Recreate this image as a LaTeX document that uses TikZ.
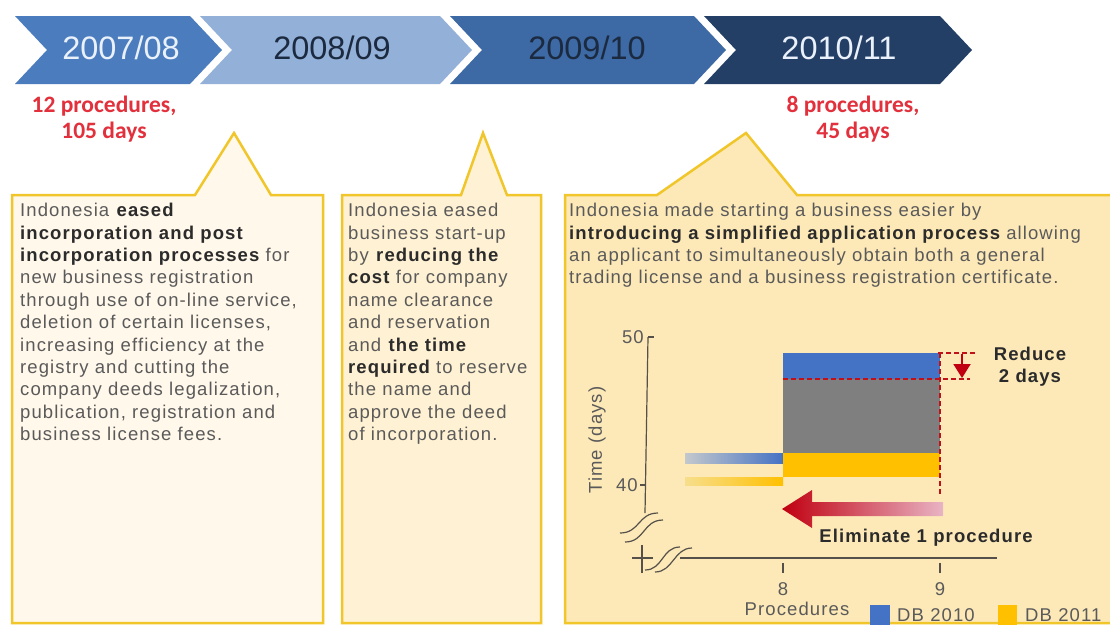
\documentclass[tikz,border=0pt]{standalone}
\usepackage{fontspec}
\setmainfont{Liberation Sans}
\newfontfamily\notefont{Carlito}
\newfontfamily\bodyfont[LetterSpace=6]{Liberation Sans}
\usetikzlibrary{arrows.meta}

\definecolor{chevA}{HTML}{4B7DBE}
\definecolor{chevB}{HTML}{92B0D8}
\definecolor{chevC}{HTML}{3D69A5}
\definecolor{chevD}{HTML}{243F66}
\definecolor{yearLight}{HTML}{EAF1FA}
\definecolor{yearDark}{HTML}{1C2A40}
\definecolor{noteRed}{HTML}{E2313C}
\definecolor{boxLine}{HTML}{F0C62A}
\definecolor{boxA}{HTML}{FFF8EB}
\definecolor{boxB}{HTML}{FFF1D3}
\definecolor{boxC}{HTML}{FDE9B8}
\definecolor{bodyGray}{HTML}{5A5A5A}
\definecolor{boldGray}{HTML}{2B2B2B}
\definecolor{axisGray}{HTML}{555049}
\definecolor{barBlue}{HTML}{4472C4}
\definecolor{barGray}{HTML}{7F7F7F}
\definecolor{barYellow}{HTML}{FFC000}
\definecolor{barFadeBlue}{HTML}{C3C8CC}
\definecolor{barFadeYellow}{HTML}{F7DE8C}
\definecolor{dashRed}{HTML}{C0101A}
\definecolor{arrowRed}{HTML}{C00010}
\definecolor{arrowPink}{HTML}{E8B4C4}

\newcommand{\hl}[1]{\textbf{\color{boldGray}#1}}

\tikzset{
  year/.style={font=\fontsize{32.5}{36}\selectfont},
  note/.style={font=\notefont\bfseries\fontsize{23.5}{26}\selectfont, text=noteRed, align=center},
  boxtext/.style={font=\bodyfont\fontsize{18.5}{22.4}\selectfont, text=bodyGray, align=left, anchor=north west, inner sep=0pt},
  callout/.style={draw=boxLine, line width=2.5pt, line join=miter},
  axis/.style={draw=axisGray, line width=1.2pt},
  reddash/.style={draw=dashRed, line width=1.4pt, dash pattern=on 5pt off 3pt},
  lbl/.style={font=\bodyfont\fontsize{18.5}{20}\selectfont, text=bodyGray, inner sep=0pt},
  bold lbl/.style={font=\bodyfont\bfseries\fontsize{18.5}{22.4}\selectfont, text=boldGray, inner sep=0pt, align=center},
}

\begin{document}
\begin{tikzpicture}[x=1pt,y=-1pt]
	\clip (0,0) rectangle (1110,625);
	\fill[white] (0,0) rectangle (1110,625);

	% timeline
	\fill[chevA] (15,16) -- (190,16) -- (222,50) -- (190,84) -- (15,84) -- (47,50) -- cycle;
	\fill[chevB] (200,16) -- (440,16) -- (472,50) -- (440,84) -- (200,84) -- (232,50) -- cycle;
	\fill[chevC] (450,16) -- (694,16) -- (726,50) -- (694,84) -- (450,84) -- (482,50) -- cycle;
	\fill[chevD] (704,16) -- (940,16) -- (972,50) -- (940,84) -- (704,84) -- (736,50) -- cycle;

	\node [year,text=yearLight] (y0708) at (121,48) {2007/08};
	\node [year,text=yearDark] (y0809) at (332,48) {2008/09};
	\node [year,text=yearDark] (y0910) at (587,48) {2009/10};
	\node [year,text=yearLight] (y1011) at (839,48) {2010/11};

	\node [note] (start) at (104,119) {12 procedures,\\105 days};
	\node [note] (end) at (853,119) {8 procedures,\\45 days};

	% callouts
	\filldraw[callout,fill=boxA] (12,195) -- (195,195) -- (234,133) -- (271,195) -- (323,195) -- (323,623) -- (12,623) -- cycle;
	\filldraw[callout,fill=boxB] (342,195) -- (461,195) -- (483,133) -- (507,195) -- (541,195) -- (541,623) -- (342,623) -- cycle;
	\filldraw[callout,fill=boxC] (565,195) -- (657,195) -- (746,133) -- (797,195) -- (1125,195) -- (1125,623) -- (565,623) -- cycle;

	\node [boxtext] (reform1) at (20,203) {Indonesia \hl{eased}\\
		\hl{incorporation and post}\\
		\hl{incorporation processes} for\\
		new business registration\\
		through use of on-line service,\\
		deletion of certain licenses,\\
		increasing efficiency at the\\
		registry and cutting the\\
		company deeds legalization,\\
		publication, registration and\\
		business license fees.};
	\node [boxtext] (reform2) at (348,203) {Indonesia eased\\
		business start-up\\
		by \hl{reducing the}\\
		\hl{cost} for company\\
		name clearance\\
		and reservation\\
		and \hl{the time}\\
		\hl{required} to reserve\\
		the name and\\
		approve the deed\\
		of incorporation.};
	\node [boxtext] (reform3) at (569,203) {Indonesia made starting a business easier by\\
		\hl{introducing a simplified application process} allowing\\
		an applicant to simultaneously obtain both a general\\
		trading license and a business registration certificate.};

	% chart
	\draw[axis] (648,337) -- (645,513);
	\draw[axis] (648,337) -- (654,337);
	\draw[axis] (640,485) -- (646,485);
	\draw[axis] (620,533) .. controls (640,533) and (638,513) .. (658,513);
	\draw[axis] (625,542) .. controls (645,542) and (643,520) .. (663,520);
	\draw[axis] (642,545) -- (642,573);
	\draw[axis] (632,558) -- (653,558);
	\draw[axis] (645,570) .. controls (663,570) and (662,547) .. (680,547);
	\draw[axis] (655,572) .. controls (673,572) and (674,548) .. (692,548);
	\draw[axis] (680,558) -- (997,558);
	\draw[axis] (783,563) -- (783,573);
	\draw[axis] (940,563) -- (940,573);

	\node [lbl,anchor=east] (t50) at (644,337) {50};
	\node [lbl,anchor=east] (t40) at (638,485) {40};
	\node [lbl,rotate=90] (ylab) at (597,440) {Time (days)};
	\node [lbl] (p8) at (783,589) {8};
	\node [lbl] (p9) at (940,589) {9};
	\node [lbl] (xlab) at (797,609) {Procedures};

	\shade[left color=barFadeBlue,right color=barBlue] (685,453) rectangle (783,463);
	\shade[left color=barFadeYellow,right color=barYellow] (685,477) rectangle (783,485);
	\fill[barBlue] (783,353) rectangle (940,379);
	\fill[barGray] (783,379) rectangle (940,453);
	\fill[barYellow] (783,453) rectangle (940,477);

	\draw[reddash] (938,353) -- (977,353);
	\draw[reddash] (783,379) -- (970,379);
	\draw[reddash] (940,353) -- (940,495);
	\draw[-{Triangle[length=14pt,width=17pt]},line width=2pt,arrowRed] (962,354) -- (962,378);
	\node [bold lbl] (reduce) at (1030,367) {Reduce\\2 days};

	\shade[left color=arrowRed,right color=arrowPink] (782,509) -- (812,490) -- (812,502) -- (943,502) -- (943,516) -- (812,516) -- (812,528) -- cycle;
	\node [bold lbl] (elim) at (926,538) {Eliminate 1 procedure};

	% legend
	\fill[barBlue] (870,605) rectangle (890,625);
	\node [lbl,anchor=west] (db10) at (897,615) {DB 2010};
	\fill[barYellow] (998,605) rectangle (1017,625);
	\node [lbl,anchor=west] (db11) at (1025,615) {DB 2011};
\end{tikzpicture}
\end{document}
